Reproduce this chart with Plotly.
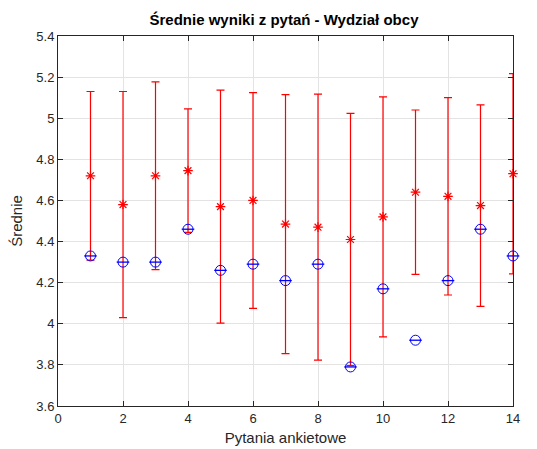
import plotly.graph_objects as go

questions = list(range(1, 15))
red_means = [4.72, 4.58, 4.72, 4.745, 4.57, 4.60, 4.485, 4.47, 4.41, 4.52, 4.64, 4.62, 4.575, 4.73]
red_err = [0.41, 0.55, 0.457, 0.30, 0.567, 0.525, 0.63, 0.647, 0.614, 0.584, 0.40, 0.48, 0.49, 0.487]
blue_means = [4.33, 4.30, 4.30, 4.46, 4.26, 4.29, 4.21, 4.29, 3.79, 4.17, 3.92, 4.21, 4.46, 4.33]

fig = go.Figure()
fig.add_trace(go.Scatter(
    x=questions, y=red_means, mode="markers",
    marker=dict(symbol="asterisk-open", size=8, color="red", line=dict(color="red", width=1.2)),
    error_y=dict(type="data", array=red_err, visible=True, color="red", thickness=1.2, width=4),
    showlegend=False, cliponaxis=False,
))
fig.add_trace(go.Scatter(
    x=questions, y=blue_means, mode="markers",
    marker=dict(symbol="circle-open", size=10, color="blue", line=dict(color="blue", width=1)),
    showlegend=False, cliponaxis=False,
))
fig.add_trace(go.Scatter(
    x=questions, y=blue_means, mode="markers",
    marker=dict(symbol="line-ew-open", size=9, color="blue", line=dict(color="blue", width=1.3)),
    showlegend=False, cliponaxis=False,
))

axis_common = dict(
    showline=True, linecolor="#262626", linewidth=1, mirror="ticks",
    ticks="inside", ticklen=5, tickcolor="#262626",
    showgrid=True, gridcolor="#e3e3e3", gridwidth=1, zeroline=False,
    automargin=False,
    tickfont=dict(family="Liberation Sans, Arial", size=13, color="#262626"),
)
fig.update_xaxes(range=[0, 14], dtick=2, tick0=0,
                 title=dict(text="Pytania ankietowe", font=dict(family="Liberation Sans, Arial", size=15, color="#262626"), standoff=7),
                 **axis_common)
fig.update_yaxes(range=[3.6, 5.4], dtick=0.2, tick0=3.6,
                 title=dict(text="Średnie", font=dict(family="Liberation Sans, Arial", size=15, color="#262626"), standoff=12),
                 **axis_common)
fig.update_layout(
    width=529, height=441,
    margin=dict(l=50, r=24, t=28, b=43),
    paper_bgcolor="white", plot_bgcolor="white",
    title=dict(text="<b>Średnie wyniki z pytań - Wydział obcy</b>", x=276 / 529, xanchor="center",
               y=1 - 12 / 441, yanchor="middle",
               font=dict(family="Liberation Sans, Arial", size=15, color="black")),
)
fig.write_html("out.html")
